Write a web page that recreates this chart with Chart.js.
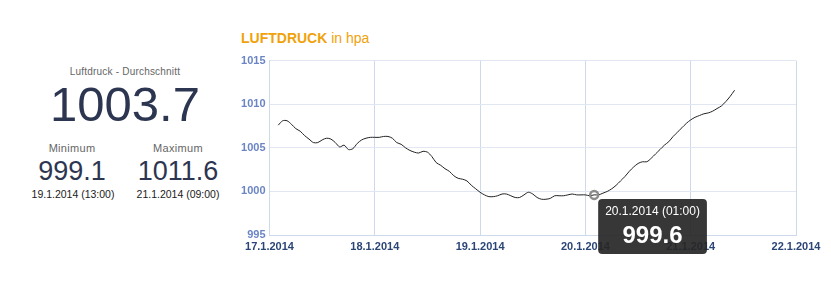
<!DOCTYPE html>
<html lang="de">
<head>
<meta charset="utf-8">
<title>Luftdruck</title>
<script src="https://cdn.jsdelivr.net/npm/chart.js@4.4.1/dist/chart.umd.min.js"></script>
<style>
    body { margin: 0; background: #fff; width: 831px; height: 293px; overflow: hidden; position: relative;
           font-family: "Liberation Sans", Arial, sans-serif; }
    .txt { position: absolute; white-space: nowrap; line-height: 1; transform: translateX(-50%); }
    .klein { font-size: 10px; color: #666; letter-spacing: 0.2px; }
    .label { font-size: 11px; color: #666; letter-spacing: 0.3px; }
    .gross { font-size: 49px; color: #2d3651; }
    .wert { font-size: 27px; color: #2d3651; }
    .zeit { font-size: 10.5px; color: #1a1a1a; }
    #titel { position: absolute; left: 241px; top: 30px; font-size: 14px; color: #f0a20a; white-space: nowrap; }
    #titel b { font-weight: bold; }
    #diagramm { position: absolute; left: 225px; top: 50px; width: 606px; height: 210px; }
</style>
</head>
<body>
<div class="txt klein" style="left:125px; top:67px;">Luftdruck - Durchschnitt</div>
<div class="txt gross" id="durchschnitt" style="left:125px; top:80px;"></div>
<div class="txt label" style="left:72px; top:143px;">Minimum</div>
<div class="txt wert" id="minimum" style="left:72px; top:158px;"></div>
<div class="txt zeit" id="minimum-zeit" style="left:73px; top:189px;"></div>
<div class="txt label" style="left:178px; top:143px;">Maximum</div>
<div class="txt wert" id="maximum" style="left:178px; top:158px;"></div>
<div class="txt zeit" id="maximum-zeit" style="left:178px; top:189px;"></div>

<div id="titel"><b>LUFTDRUCK</b> in hpa</div>
<div id="diagramm"><canvas id="luftdruck-chart"></canvas></div>

<script>
// stündliche Messwerte ab 17.1.2014 01:00
const luftdruck = [
    1007.6, 1008.1, 1008.1, 1007.7, 1007.2, 1006.9, 1006.4, 1006.0, 1005.6, 1005.6,
    1005.9, 1006.1, 1006.0, 1005.6, 1005.1, 1005.3, 1004.8, 1004.9, 1005.5, 1005.9,
    1006.1, 1006.2, 1006.2, 1006.2, 1006.3, 1006.3, 1006.1, 1005.6, 1005.4, 1005.0,
    1004.7, 1004.5, 1004.4, 1004.6, 1004.5, 1004.0, 1003.3, 1003.0, 1002.6, 1002.3,
    1001.8, 1001.5, 1001.4, 1001.2, 1000.7, 1000.3, 999.9, 999.6, 999.4, 999.4,
    999.5, 999.7, 999.7, 999.5, 999.3, 999.3, 999.6, 999.9, 999.7, 999.3,
    999.1, 999.1, 999.2, 999.5, 999.5, 999.5, 999.6, 999.7, 999.6, 999.6,
    999.6, 999.5, 999.6, 999.6, 999.8, 1000.0, 1000.3, 1000.7, 1001.2, 1001.7,
    1002.3, 1002.8, 1003.2, 1003.4, 1003.4, 1003.8, 1004.3, 1004.8, 1005.3, 1005.7,
    1006.3, 1006.8, 1007.3, 1007.8, 1008.2, 1008.5, 1008.7, 1008.9, 1009.0, 1009.2,
    1009.5, 1009.8, 1010.3, 1010.9, 1011.6
];
const ersteStunde = 1;      // 17.1.2014 01:00
const versatz = 1;          // Kurve ist im Original um eine Stunde verschoben gezeichnet
const tage = ['17.1.2014', '18.1.2014', '19.1.2014', '20.1.2014', '21.1.2014', '22.1.2014'];
const yWerte = [995, 1000, 1005, 1010, 1015];
const markierterIndex = 72; // 20.1.2014 (01:00)

function formatZeit(index) {
    const h = ersteStunde + index;
    const tag = tage[Math.floor(h / 24)];
    const stunde = String(h % 24).padStart(2, '0');
    return tag + ' (' + stunde + ':00)';
}

// Kennzahlen links
const summe = luftdruck.reduce((a, b) => a + b, 0);
const minWert = Math.min(...luftdruck);
const maxWert = Math.max(...luftdruck);
document.getElementById('durchschnitt').textContent = (summe / luftdruck.length).toFixed(1);
document.getElementById('minimum').textContent = minWert.toFixed(1);
document.getElementById('maximum').textContent = maxWert.toFixed(1);
document.getElementById('minimum-zeit').textContent = formatZeit(luftdruck.indexOf(minWert));
document.getElementById('maximum-zeit').textContent = formatZeit(luftdruck.indexOf(maxWert));

const punkte = luftdruck.map(function(wert, i) {
    return { x: ersteStunde + versatz + i, y: wert };
});

Chart.Tooltip.positioners.unterRechts = function(items) {
    if (!items.length) return false;
    const el = items[0].element;
    return { x: el.x + 8, y: el.y };
};

const schrift = '"Liberation Sans", Arial, sans-serif';

const ctx = document.getElementById('luftdruck-chart').getContext('2d');
const chart = new Chart(ctx, {
    type: 'line',
    data: {
        datasets: [{
            label: 'Luftdruck',
            data: punkte,
            borderColor: '#222',
            borderWidth: 1,
            tension: 0.3,
            pointRadius: 0,
            pointHoverRadius: 4,
            pointHoverBorderWidth: 2.5,
            pointHoverBorderColor: '#8c8c8c',
            pointHoverBackgroundColor: 'rgba(255,255,255,0)'
        }]
    },
    options: {
        responsive: true,
        maintainAspectRatio: false,
        animation: false,
        events: [],
        layout: { padding: { top: 9, right: 35, bottom: 0, left: 0 } },
        plugins: {
            legend: { display: false },
            tooltip: {
                position: 'unterRechts',
                xAlign: 'left',
                yAlign: 'top',
                caretSize: 0,
                caretPadding: 4,
                cornerRadius: 4,
                backgroundColor: 'rgba(38,38,38,0.92)',
                displayColors: false,
                padding: { top: 6, bottom: 3, left: 7, right: 7 },
                titleColor: '#fff',
                titleFont: { family: schrift, size: 12, weight: 'normal' },
                titleAlign: 'center',
                titleMarginBottom: 3,
                bodyColor: '#fff',
                bodyFont: { family: schrift, size: 24, weight: 'bold' },
                bodyAlign: 'center',
                callbacks: {
                    title: function(items) { return formatZeit(items[0].dataIndex); },
                    label: function(item) { return item.parsed.y.toFixed(1); }
                }
            }
        },
        scales: {
            x: {
                type: 'linear',
                min: 0,
                max: (tage.length - 1) * 24,
                afterBuildTicks: function(s) { s.ticks = tage.map((t, i) => ({ value: i * 24 })); },
                afterFit: function(s) { s.height = 25; },
                ticks: {
                    color: '#2c4577',
                    font: { family: schrift, size: 11, weight: 'bold' },
                    maxRotation: 0,
                    padding: 5,
                    callback: function(v) { return tage[v / 24]; }
                },
                grid: { color: '#cfd9ec', drawTicks: false },
                border: { color: '#cfd9ec' }
            },
            y: {
                min: yWerte[0],
                max: yWerte[yWerte.length - 1],
                afterBuildTicks: function(s) { s.ticks = yWerte.map(v => ({ value: v })); },
                afterFit: function(s) { s.width = 44.5; },
                ticks: {
                    color: '#6b85c4',
                    font: { family: schrift, size: 11, weight: 'bold' },
                    padding: 4,
                    callback: function(v) { return String(v); }
                },
                grid: { color: '#e0e6f2', drawTicks: false },
                border: { color: '#cfd9ec' }
            }
        }
    }
});

chart.setActiveElements([{ datasetIndex: 0, index: markierterIndex }]);
chart.tooltip.setActiveElements([{ datasetIndex: 0, index: markierterIndex }], { x: 0, y: 0 });
chart.update('none');
</script>
</body>
</html>
